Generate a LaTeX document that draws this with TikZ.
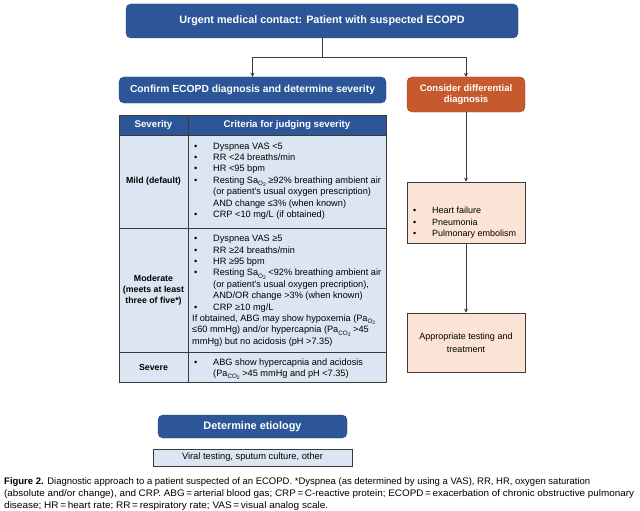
\documentclass[tikz,border=0pt]{standalone}
\usepackage{fontspec}
\setmainfont{Liberation Sans}
\usetikzlibrary{arrows.meta}
\definecolor{dblue}{HTML}{2C5697}
\definecolor{lblue}{HTML}{DCE6F2}
\definecolor{orng}{HTML}{C65A2E}
\definecolor{peach}{HTML}{FBE4D5}
\definecolor{edge}{HTML}{3A3A3A}
\newcommand\mysb[1]{\raisebox{-0.45ex}{\fontsize{6.3}{7}\selectfont #1}}
\newcommand\mysbb[1]{\raisebox{-0.3ex}{\fontsize{5}{6}\selectfont #1}}
\newcommand\bl{\makebox[21pt][l]{\hspace{2pt}\textbullet}}
\newcommand\ind{\hspace*{21pt}}
\tikzset{
  bluebox/.style={draw=dblue!80!black, fill=dblue, rounded corners=5pt, text=white, inner sep=0pt, align=center},
  orangebox/.style={draw=orng!80!black, fill=orng, rounded corners=5pt, text=white, font=\bfseries\fontsize{9.5}{11.5}\selectfont, inner sep=0pt, align=center},
  peachbox/.style={draw=edge, fill=peach, inner sep=0pt, line width=0.7pt},
  hdr/.style={draw=edge, fill=dblue, text=white, font=\bfseries\fontsize{9.7}{11}\selectfont, inner sep=0pt, line width=0.7pt},
  cell/.style={draw=edge, fill=lblue, inner sep=0pt, line width=0.7pt, font=\bfseries\fontsize{8.8}{11}\selectfont, align=center},
  body/.style={inner sep=0pt, align=left, font=\fontsize{9.2}{11.4}\selectfont, anchor=north west},
  conn/.style={draw=edge, line width=0.7pt, -{Stealth[length=4pt,width=4pt]}},
  capline/.style={anchor=base west, inner sep=0pt, font=\fontsize{9.5}{11.7}\selectfont},
}
\begin{document}
\begin{tikzpicture}[x=1pt,y=-1pt]
\useasboundingbox (0,0) rectangle (640,511);
\fill[white] (0,0) rectangle (640,511);
% top
\node[bluebox, font=\bfseries\fontsize{10.8}{12}\selectfont, minimum width=392pt, minimum height=34pt] (top) at (322,21) {Urgent medical contact: Patient with suspected ECOPD};
\node[bluebox, font=\bfseries\fontsize{10.3}{12}\selectfont, minimum width=267pt, minimum height=26pt] (conf) at (252.5,90) {Confirm ECOPD diagnosis and determine severity};
\node[orangebox, minimum width=118pt, minimum height=35pt] (diff) at (466,94.5) {Consider differential\\diagnosis};
\coordinate (split) at (322,57);
\draw[draw=edge, line width=0.7pt] (top.south) -- (split);
\draw[conn] (split) -| (conf.north);
\draw[conn] (split) -| (diff.north);
% table
\node[hdr, minimum width=69pt, minimum height=20pt] (h1) at (153.5,125) {Severity};
\node[hdr, minimum width=198pt, minimum height=20pt] (h2) at (287,125) {Criteria for judging severity};
\node[cell, minimum width=69pt, minimum height=93pt] (m1) at (153.5,181.5) {Mild (default)};
\node[cell, minimum width=198pt, minimum height=93pt] (m2) at (287,181.5) {};
\node[cell, minimum width=69pt, minimum height=124pt] (o1) at (153.5,290) {Moderate\\(meets at least\\three of five*)};
\node[cell, minimum width=198pt, minimum height=124pt] (o2) at (287,290) {};
\node[cell, minimum width=69pt, minimum height=30pt] (s1) at (153.5,367) {Severe};
\node[cell, minimum width=198pt, minimum height=30pt] (s2) at (287,367) {};
\node[body] (mt) at (192,142.5) {\bl Dyspnea VAS <5\\
\bl RR <24 breaths/min\\
\bl HR <95 bpm\\
\bl Resting Sa\mysb{O\mysbb{2}} ≥92\% breathing ambient air\\
\ind(or patient’s usual oxygen prescription)\\
\ind AND change ≤3\% (when known)\\
\bl CRP <10 mg/L (if obtained)};
\node[body] (ot) at (192,235) {\bl Dyspnea VAS ≥5\\
\bl RR ≥24 breaths/min\\
\bl HR ≥95 bpm\\
\bl Resting Sa\mysb{O\mysbb{2}} <92\% breathing ambient air\\
\ind(or patient’s usual oxygen precription),\\
\ind AND/OR change >3\% (when known)\\
\bl CRP ≥10 mg/L\\
If obtained, ABG may show hypoxemia (Pa\mysb{O\mysbb{2}}\\
≤60 mmHg) and/or hypercapnia (Pa\mysb{CO\mysbb{2}} >45\\
mmHg) but no acidosis (pH >7.35)};
\node[body] (st) at (192,358.5) {\bl ABG show hypercapnia and acidosis\\
\ind(Pa\mysb{CO\mysbb{2}} >45 mmHg and pH <7.35)};
% etiology
\node[bluebox, font=\bfseries\fontsize{10.9}{12}\selectfont, minimum width=189pt, minimum height=23pt] (etio) at (252.5,426.5) {Determine etiology};
\node[draw=edge, fill=lblue, line width=0.7pt, minimum width=199pt, minimum height=17pt, inner sep=0pt, font=\fontsize{9.3}{10}\selectfont] (viral) at (252.5,457.5) {Viral testing, sputum culture, other};
% right column
\node[peachbox, minimum width=118pt, minimum height=61pt] (hf) at (466,212.5) {};
\node[body, font=\fontsize{9}{11.3}\selectfont] (hft) at (411,207) {\bl Heart failure\\ \bl Pneumonia\\ \bl Pulmonary embolism};
\node[peachbox, minimum width=118pt, minimum height=59pt, align=center, font=\fontsize{9}{13}\selectfont] (appr) at (466,342.5) {Appropriate testing and\\treatment};
\draw[conn] (diff.south) -- (hf.north);
\draw[conn] (hf.south) -- (appr.north);
% caption
\node[capline] (cap1) at (4,484.8) {\resizebox{586pt}{\height}{\textbf{Figure 2.} Diagnostic approach to a patient suspected of an ECOPD. *Dyspnea (as determined by using a VAS), RR, HR, oxygen saturation}};
\node[capline] (cap2) at (4,496.5) {\resizebox{630pt}{\height}{(absolute and/or change), and CRP. ABG\,=\,arterial blood gas; CRP\,=\,C-reactive protein; ECOPD\,=\,exacerbation of chronic obstructive pulmonary}};
\node[capline] (cap3) at (4,508.2) {\resizebox{324pt}{\height}{disease; HR\,=\,heart rate; RR\,=\,respiratory rate; VAS\,=\,visual analog scale.}};
\end{tikzpicture}
\end{document}
